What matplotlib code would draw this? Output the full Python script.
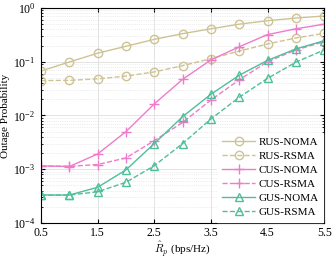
import matplotlib
matplotlib.use('Agg')
import matplotlib.pyplot as plt
import numpy as np

plt.rcParams['font.family'] = 'Liberation Serif'
plt.rcParams['mathtext.fontset'] = 'cm'
plt.rcParams['font.size'] = 8

rate = [0.5, 1.0, 1.5, 2.0, 2.5, 3.0, 3.5, 4.0, 4.5, 5.0, 5.5]

rus_noma = [0.067, 0.099, 0.144, 0.194, 0.261, 0.333, 0.41, 0.50, 0.58, 0.65, 0.71]
rus_rsma = [0.0445, 0.045, 0.048, 0.054, 0.0645, 0.0845, 0.114, 0.158, 0.214, 0.277, 0.338]
cus_noma = [1.15e-3, 1.12e-3, 1.92e-3, 5.0e-3, 0.0164, 0.047, 0.108, 0.19, 0.32, 0.41, 0.50]
cus_rsma = [1.15e-3, 1.13e-3, 1.22e-3, 1.62e-3, 3.4e-3, 7.4e-3, 0.0194, 0.046, 0.10, 0.166, 0.236]
gus_noma = [3.3e-4, 3.3e-4, 4.6e-4, 9.7e-4, 3.0e-3, 0.0095, 0.0248, 0.056, 0.106, 0.173, 0.246]
gus_rsma = [3.3e-4, 3.3e-4, 3.8e-4, 5.7e-4, 1.16e-3, 3.0e-3, 0.0086, 0.0218, 0.049, 0.098, 0.166]

c_rus = '#CEC392'
c_cus = '#EE7CCB'
c_gus = '#4FBF99'

fig = plt.figure(figsize=(3.32, 2.58), dpi=100)
ax = fig.add_axes([0.1235, 0.136, 0.853, 0.833])

ms = 6
ax.semilogy(rate, rus_noma, '-', color=c_rus, marker='o', mfc='none', ms=ms, lw=1, label='RUS-NOMA')
ax.semilogy(rate, rus_rsma, '--', color=c_rus, marker='o', mfc='none', ms=ms, lw=1, label='RUS-RSMA')
ax.semilogy(rate, cus_noma, '-', color=c_cus, marker='+', ms=ms + 1, lw=1, label='CUS-NOMA')
ax.semilogy(rate, cus_rsma, '--', color=c_cus, marker='+', ms=ms + 1, lw=1, label='CUS-RSMA')
ax.semilogy(rate, gus_noma, '-', color=c_gus, marker='^', mfc='none', ms=ms, lw=1, label='GUS-NOMA')
ax.semilogy(rate, gus_rsma, '--', color=c_gus, marker='^', mfc='none', ms=ms, lw=1, label='GUS-RSMA')

ax.set_xlim(0.5, 5.5)
ax.set_ylim(1e-4, 1)
ax.set_xticks([0.5, 1.5, 2.5, 3.5, 4.5, 5.5])
ax.set_xticklabels(['0.5', '1.5', '2.5', '3.5', '4.5', '5.5'])
ax.tick_params(which='both', direction='in', top=True, right=True, labelsize=8.5)
ax.tick_params(which='major', length=3, pad=4)
ax.tick_params(axis='x', which='major', pad=3)
ax.tick_params(which='minor', length=1.5)
ax.grid(True, which='major', color='#e3e3e3', lw=0.7)
ax.grid(True, which='minor', color='#dddddd', lw=0.5, ls=':')
ax.set_axisbelow(True)

ax.set_xlabel(r'$\hat{R}_p$ (bps/Hz)', labelpad=0)
ax.set_ylabel('Outage Probability', labelpad=2)

leg = ax.legend(loc='lower right', fontsize=8, frameon=True, fancybox=False,
                edgecolor='white', framealpha=1, borderaxespad=0.1,
                labelspacing=0.38, handlelength=3.0, handletextpad=0.3)

fig.savefig('out.png', dpi=100)
